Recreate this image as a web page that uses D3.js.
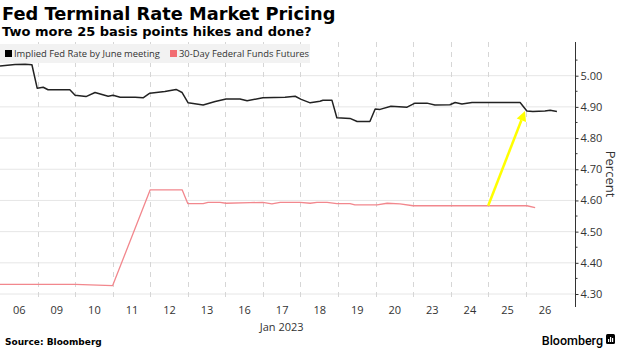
<!DOCTYPE html>
<html><head><meta charset="utf-8">
<script src="https://cdn.jsdelivr.net/npm/d3@7/dist/d3.min.js"></script>
<style>
html,body{margin:0;padding:0;background:#fff;}
svg{display:block;}
text{font-family:"Open Sans","Noto Sans",sans-serif;}
</style></head>
<body>
<script>
// ---- data ----
const dayLabels = ["06","09","10","11","12","13","16","17","18","19","20","23","24","25","26"];
const monthLabel = "Jan 2023";
const yTicks = [4.30,4.40,4.50,4.60,4.70,4.80,4.90,5.00];
// x in trading-day index units (0 = start of Jan 06)
const impliedX = [0,0.40,0.67,0.85,0.99,1.15,1.28,1.86,2.00,2.29,2.53,2.88,3.01,3.20,3.60,3.81,3.99,4.39,4.69,4.85,5.01,5.41,5.73,6.02,6.39,6.58,7.00,7.59,7.86,8.02,8.26,8.52,8.60,8.84,8.97,9.32,9.51,9.85,9.99,10.12,10.41,10.84,11.05,11.37,11.58,11.98,12.12,12.30,12.57,13.85,14.03,14.19,14.51,14.65,14.83];
const impliedY = [5.031,5.036,5.037,5.035,4.960,4.963,4.955,4.955,4.937,4.933,4.946,4.934,4.937,4.931,4.931,4.929,4.944,4.949,4.956,4.946,4.913,4.906,4.917,4.925,4.925,4.920,4.929,4.931,4.934,4.924,4.913,4.918,4.921,4.921,4.865,4.863,4.853,4.853,4.893,4.892,4.902,4.899,4.912,4.912,4.906,4.907,4.914,4.909,4.914,4.914,4.887,4.885,4.887,4.889,4.885];
const futuresX = [0,2.00,3.00,4.00,4.85,5.00,5.41,5.54,5.86,6.02,6.66,7.00,7.24,7.46,7.99,8.26,8.44,8.71,8.97,9.32,9.45,10.04,10.31,10.65,11.00,14.03,14.25];
const futuresY = [4.331,4.331,4.327,4.634,4.634,4.590,4.590,4.594,4.594,4.591,4.593,4.594,4.589,4.594,4.594,4.591,4.594,4.594,4.590,4.590,4.586,4.586,4.591,4.589,4.583,4.583,4.577];
const seriesNames = ["Implied Fed Rate by June meeting","30-Day Federal Funds Futures"];
const arrowFrom = [13.0, 4.583];
const arrowTo = [13.98, 4.887];

// ---- layout ----
const W = 620, H = 348;
const svg = d3.select("body").append("svg").attr("width", W).attr("height", H);
const plotLeft = 0, plotRight = 575, plotTop = 42, plotBottom = 307;
const x = d3.scaleLinear().domain([0, 15]).range([0, 563.3]);
const y = d3.scaleLinear().domain([4.30, 5.00]).range([294, 75.7]);

// title
svg.append("text").attr("x", 2).attr("y", 20).text("Fed Terminal Rate Market Pricing")
  .style("font-family", "'DejaVu Sans',sans-serif").style("font-weight", "bold").style("font-size", "17.8px").attr("fill", "#000");
svg.append("text").attr("x", 2).attr("y", 36).text("Two more 25 basis points hikes and done?")
  .style("font-family", "'DejaVu Sans',sans-serif").style("font-weight", "bold").style("font-size", "13px").attr("fill", "#000");

// horizontal grid
svg.append("g").selectAll("line").data(yTicks).join("line")
  .attr("x1", plotLeft).attr("x2", plotRight)
  .attr("y1", d => y(d)).attr("y2", d => y(d))
  .attr("stroke", "#e6e6e6").attr("stroke-width", 1);

// vertical dashed grid at day boundaries
const bounds = d3.range(1, 15);
svg.append("g").selectAll("line").data(bounds).join("line")
  .attr("x1", d => Math.round(x(d)) + 0.5).attr("x2", d => Math.round(x(d)) + 0.5)
  .attr("y1", plotTop).attr("y2", 302)
  .attr("stroke", "#d6d6d6").attr("stroke-width", 1).attr("stroke-dasharray", "5,5");

// legend background
svg.append("rect").attr("x", 0).attr("y", 44).attr("width", 310).attr("height", 19).attr("fill", "#f2f2f2");
svg.append("rect").attr("x", 5).attr("y", 50).attr("width", 7).attr("height", 7).attr("fill", "#000");
svg.append("text").attr("x", 14).attr("y", 57).text(seriesNames[0]).style("font-size", "9.4px").attr("fill", "#333");
svg.append("rect").attr("x", 170).attr("y", 50).attr("width", 7).attr("height", 7).attr("fill", "#f26d72");
svg.append("text").attr("x", 179).attr("y", 57).text(seriesNames[1]).style("font-size", "9.4px").attr("fill", "#333");

// lines
const line = d3.line().x(d => x(d[0])).y(d => y(d[1]));
const implied = impliedX.map((v, i) => [v, impliedY[i]]);
const futures = futuresX.map((v, i) => [v, futuresY[i]]);
svg.append("path").datum(futures).attr("d", line).attr("fill", "none")
  .attr("stroke", "#f2878d").attr("stroke-width", 1.3).attr("stroke-linejoin", "round");
svg.append("path").datum(implied).attr("d", line).attr("fill", "none")
  .attr("stroke", "#222").attr("stroke-width", 1.5).attr("stroke-linejoin", "round");

// arrow annotation
const ax1 = x(arrowFrom[0]), ay1 = y(arrowFrom[1]);
const ax2 = x(arrowTo[0]), ay2 = y(arrowTo[1]);
const ang = Math.atan2(ay2 - ay1, ax2 - ax1);
const headLen = 10, headW = 5;
const bx = ax2 - headLen * Math.cos(ang), by = ay2 - headLen * Math.sin(ang);
svg.append("line").attr("x1", ax1).attr("y1", ay1).attr("x2", bx).attr("y2", by)
  .attr("stroke", "#ffff00").attr("stroke-width", 2.5);
svg.append("path").attr("d", `M${ax2},${ay2} L${bx + headW*Math.sin(ang)},${by - headW*Math.cos(ang)} L${bx - headW*Math.sin(ang)},${by + headW*Math.cos(ang)} Z`)
  .attr("fill", "#ffff00");

// y axis
const yAxis = d3.axisRight(y).tickValues(yTicks).tickFormat(d3.format(".2f")).tickSize(3).tickPadding(2);
const gy = svg.append("g").attr("transform", `translate(${plotRight + 0.5},0)`).call(yAxis);
gy.select(".domain").remove();
gy.selectAll("text").style("font-size", "11px").attr("fill", "#333").style("font-family", "'Open Sans',sans-serif");
gy.selectAll(".tick line").attr("stroke", "#333");
svg.append("line").attr("x1", plotRight + 0.5).attr("x2", plotRight + 0.5).attr("y1", plotTop).attr("y2", plotBottom).attr("stroke", "#333");
const minor = d3.range(4.25, 5.1, 0.1).map(v => +v.toFixed(2)).filter(v => y(v) > plotTop && y(v) < plotBottom);
svg.append("g").selectAll("line").data(minor).join("line")
  .attr("x1", plotRight + 0.5).attr("x2", plotRight + 2.5)
  .attr("y1", d => y(d)).attr("y2", d => y(d)).attr("stroke", "#333");
svg.append("text").attr("transform", `translate(606,174) rotate(90)`).attr("text-anchor", "middle")
  .text("Percent").style("font-size", "13px").attr("fill", "#333");

// x axis labels
const xAxis = d3.axisBottom(x).tickValues(d3.range(15).map(i => i + 0.5)).tickFormat((d, i) => dayLabels[i]).tickSize(0).tickPadding(0);
const gx = svg.append("g").attr("transform", "translate(0,306)").call(xAxis);
gx.select(".domain").remove();
gx.selectAll("text").style("font-size", "11px").attr("fill", "#333").style("font-family", "'Open Sans',sans-serif");
svg.append("text").attr("x", x(7.5)).attr("y", 331).attr("text-anchor", "middle").text(monthLabel)
  .style("font-size", "11px").attr("fill", "#333");

// footer
svg.append("text").attr("x", 5).attr("y", 345).text("Source: Bloomberg")
  .style("font-family", "'DejaVu Sans',sans-serif").style("font-weight", "bold").style("font-size", "9px").attr("fill", "#000");
svg.append("text").attr("x", 603).attr("y", 345).attr("text-anchor", "end").text("Bloomberg")
  .style("font-family", "Roboto,sans-serif").style("font-weight", "500").style("font-size", "12.5px").attr("fill", "#000");
svg.append("rect").attr("x", 606).attr("y", 334).attr("width", 9).attr("height", 10).attr("rx", 1.5).attr("fill", "#000");
svg.append("rect").attr("x", 608).attr("y", 339).attr("width", 1.2).attr("height", 3).attr("fill", "#fff");
svg.append("rect").attr("x", 610).attr("y", 337).attr("width", 1.2).attr("height", 5).attr("fill", "#fff");
svg.append("rect").attr("x", 612).attr("y", 338).attr("width", 1.2).attr("height", 4).attr("fill", "#fff");
</script>
</body></html>
